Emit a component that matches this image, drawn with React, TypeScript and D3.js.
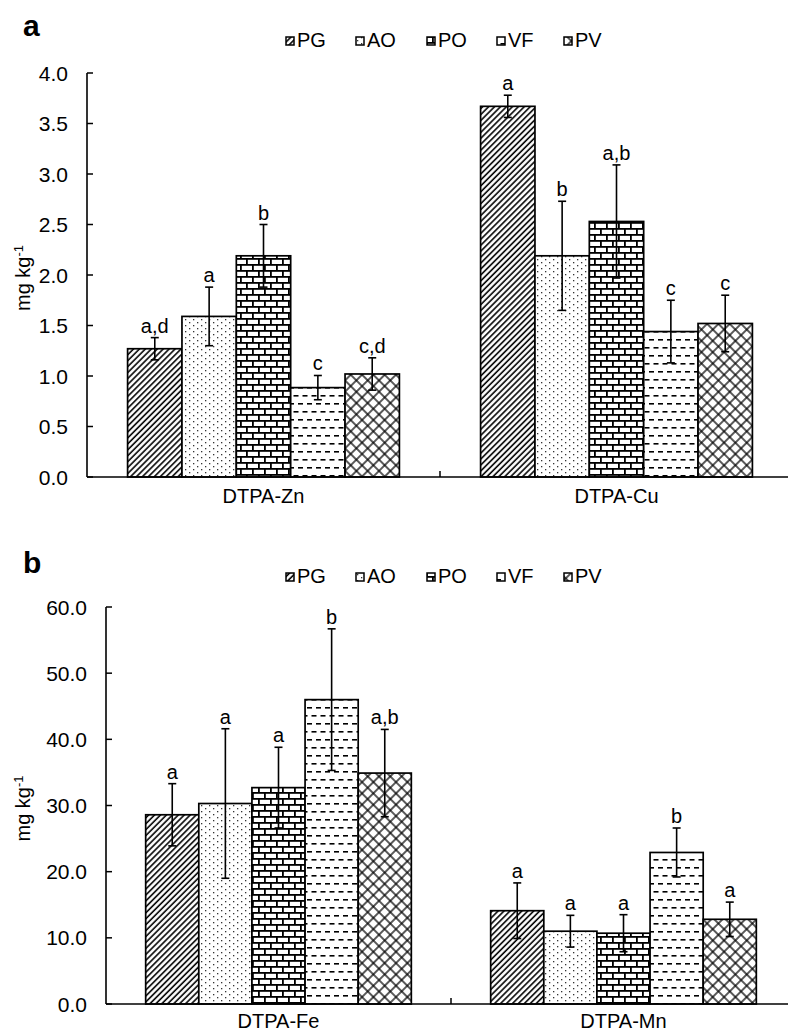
import React from "react";
import * as d3 from "d3";

const series = ["PG", "AO", "PO", "VF", "PV"];

const catsA = ["DTPA-Zn", "DTPA-Cu"];
const valsA_Zn = [1.27, 1.59, 2.19, 0.885, 1.02];
const errsA_Zn = [0.11, 0.29, 0.31, 0.12, 0.16];
const lettersA_Zn = ["a,d", "a", "b", "c", "c,d"];
const valsA_Cu = [3.67, 2.19, 2.53, 1.44, 1.52];
const errsA_Cu = [0.11, 0.54, 0.56, 0.31, 0.28];
const lettersA_Cu = ["a", "b", "a,b", "c", "c"];
const ticksA = [0, 0.5, 1.0, 1.5, 2.0, 2.5, 3.0, 3.5, 4.0];

const catsB = ["DTPA-Fe", "DTPA-Mn"];
const valsB_Fe = [28.6, 30.3, 32.7, 46.0, 34.9];
const errsB_Fe = [4.7, 11.3, 6.1, 10.7, 6.6];
const lettersB_Fe = ["a", "a", "a", "b", "a,b"];
const valsB_Mn = [14.1, 11.0, 10.7, 22.9, 12.8];
const errsB_Mn = [4.2, 2.4, 2.8, 3.7, 2.6];
const lettersB_Mn = ["a", "a", "a", "b", "a"];
const ticksB = [0, 10, 20, 30, 40, 50, 60];

const FONT = "'Liberation Sans', Arial, sans-serif";

type PanelProps = {
  title: string;
  cats: string[];
  vals: number[][];
  errs: number[][];
  letters: string[][];
  ticks: number[];
  domainMax: number;
  x0: number;
  x1: number;
  yTop: number;
  yBase: number;
  titleY: number;
  legendY: number;
  catOffset: number;
  tickFmt: (v: number) => string;
};

function Panel(p: PanelProps) {
  const y = d3.scaleLinear().domain([0, p.domainMax]).range([p.yBase, p.yTop]);
  const xg = d3
    .scaleBand<string>()
    .domain(p.cats)
    .range([p.x0, p.x1])
    .paddingInner(0.23)
    .paddingOuter(0.115);
  const step = xg.step();
  const xs = d3.scaleBand<string>().domain(series).range([0, xg.bandwidth()]);
  const labelMid = (p.yTop + p.yBase) / 2 + 3;
  const legendX = [286, 356, 427, 497, 564];
  return (
    <g>
      <text x={23} y={p.titleY} fontFamily={FONT} fontWeight="bold" fontSize={30}>
        {p.title}
      </text>
      {series.map((s, i) => (
        <g key={s}>
          <rect
            x={legendX[i]}
            y={p.legendY - 10}
            width={8}
            height={8}
            fill={`url(#pat${s})`}
            stroke="#000"
            strokeWidth={1.5}
          />
          <text x={legendX[i] + 11} y={p.legendY} fontFamily={FONT} fontSize={20}>
            {s}
          </text>
        </g>
      ))}
      <text
        transform={`translate(30,${labelMid}) rotate(-90)`}
        textAnchor="middle"
        fontFamily={FONT}
        fontSize={20}
      >
        mg kg<tspan dy={-7} fontSize={13}>-1</tspan>
      </text>
      {p.cats.map((c, ci) => (
        <g key={c}>
          {series.map((s, si) => {
            const v = p.vals[ci][si];
            const e = p.errs[ci][si];
            const bx = (xg(c) as number) + (xs(s) as number);
            const bw = xs.bandwidth();
            const cx = bx + bw / 2;
            return (
              <g key={s}>
                <rect
                  x={bx}
                  y={y(v)}
                  width={bw}
                  height={p.yBase - y(v)}
                  fill={`url(#pat${s})`}
                  stroke="#000"
                  strokeWidth={1.7}
                />
                <line x1={cx} x2={cx} y1={y(v + e)} y2={y(v - e)} stroke="#000" strokeWidth={1.6} />
                <line x1={cx - 4} x2={cx + 4} y1={y(v + e)} y2={y(v + e)} stroke="#000" strokeWidth={1.6} />
                <line x1={cx - 4} x2={cx + 4} y1={y(v - e)} y2={y(v - e)} stroke="#000" strokeWidth={1.6} />
                <text
                  x={cx}
                  y={y(v + e) - 5}
                  textAnchor="middle"
                  fontFamily={FONT}
                  fontSize={20}
                >
                  {p.letters[ci][si]}
                </text>
              </g>
            );
          })}
          <text
            x={(xg(c) as number) + xg.bandwidth() / 2}
            y={p.yBase + p.catOffset}
            textAnchor="middle"
            fontFamily={FONT}
            fontSize={20}
          >
            {c}
          </text>
        </g>
      ))}
      <line x1={p.x0} x2={p.x0} y1={p.yTop} y2={p.yBase} stroke="#000" strokeWidth={1.6} />
      <line x1={p.x0} x2={p.x1} y1={p.yBase} y2={p.yBase} stroke="#000" strokeWidth={1.6} />
      {p.cats.slice(1).map((c) => {
        const sx = (xg(c) as number) - (step - xg.bandwidth()) / 2;
        return <line key={c} x1={sx} x2={sx} y1={p.yBase} y2={p.yBase - 6} stroke="#000" strokeWidth={1.5} />;
      })}
      {p.ticks.map((t) => (
        <g key={t}>
          <line x1={p.x0} x2={p.x0 + 6} y1={y(t)} y2={y(t)} stroke="#000" strokeWidth={1.5} />
          <text
            x={p.x0 - 19}
            y={y(t) + 7.5}
            textAnchor="end"
            fontFamily={FONT}
            fontSize={21}
          >
            {p.tickFmt(t)}
          </text>
        </g>
      ))}
    </g>
  );
}

export default function App() {
  const fmt = d3.format(".1f");
  return (
    <svg
      width={788}
      height={1032}
      style={{ position: "absolute", left: 0, top: 0, background: "#fff" }}
    >
      <defs>
        <pattern id="patPG" patternUnits="userSpaceOnUse" width={4.2} height={4.2} patternTransform="rotate(45)">
          <rect width={4.2} height={4.2} fill="#fff" />
          <line x1={1} x2={1} y1={0} y2={4.2} stroke="#000" strokeWidth={1.6} />
        </pattern>
        <pattern id="patAO" patternUnits="userSpaceOnUse" width={8} height={6}>
          <rect width={8} height={6} fill="#fff" />
          <rect x={1} y={1} width={1.3} height={1.3} fill="#333" />
          <rect x={5} y={4} width={1.3} height={1.3} fill="#333" />
        </pattern>
        <pattern id="patPO" patternUnits="userSpaceOnUse" width={12} height={12}>
          <rect width={12} height={12} fill="#fff" />
          <rect x={0} y={0} width={12} height={1.8} fill="#000" />
          <rect x={0} y={6} width={12} height={1.8} fill="#000" />
          <rect x={0} y={0} width={1.8} height={6} fill="#000" />
          <rect x={6} y={6} width={1.8} height={6} fill="#000" />
        </pattern>
        <pattern id="patVF" patternUnits="userSpaceOnUse" width={9} height={16}>
          <rect width={9} height={16} fill="#fff" />
          <rect x={1} y={3} width={5} height={1.6} fill="#000" />
          <rect x={5.5} y={11} width={3.5} height={1.6} fill="#000" />
          <rect x={0} y={11} width={1.5} height={1.6} fill="#000" />
        </pattern>
        <pattern id="patPV" patternUnits="userSpaceOnUse" width={8} height={8} patternTransform="rotate(45)">
          <rect width={8} height={8} fill="#fff" />
          <line x1={0} x2={8} y1={1} y2={1} stroke="#000" strokeWidth={1.3} />
          <line x1={1} x2={1} y1={0} y2={8} stroke="#000" strokeWidth={1.3} />
        </pattern>
      </defs>
      <rect width={788} height={1032} fill="#fff" />
      <Panel
        title="a"
        cats={catsA}
        vals={[valsA_Zn, valsA_Cu]}
        errs={[errsA_Zn, errsA_Cu]}
        letters={[lettersA_Zn, lettersA_Cu]}
        ticks={ticksA}
        domainMax={4}
        x0={87}
        x1={793}
        yTop={73}
        yBase={477}
        titleY={36}
        legendY={47}
        catOffset={26}
        tickFmt={fmt}
      />
      <Panel
        title="b"
        cats={catsB}
        vals={[valsB_Fe, valsB_Mn]}
        errs={[errsB_Fe, errsB_Mn]}
        letters={[lettersB_Fe, lettersB_Mn]}
        ticks={ticksB}
        domainMax={60}
        x0={106}
        x1={796}
        yTop={607}
        yBase={1004}
        titleY={573}
        legendY={583}
        catOffset={24}
        tickFmt={fmt}
      />
    </svg>
  );
}
